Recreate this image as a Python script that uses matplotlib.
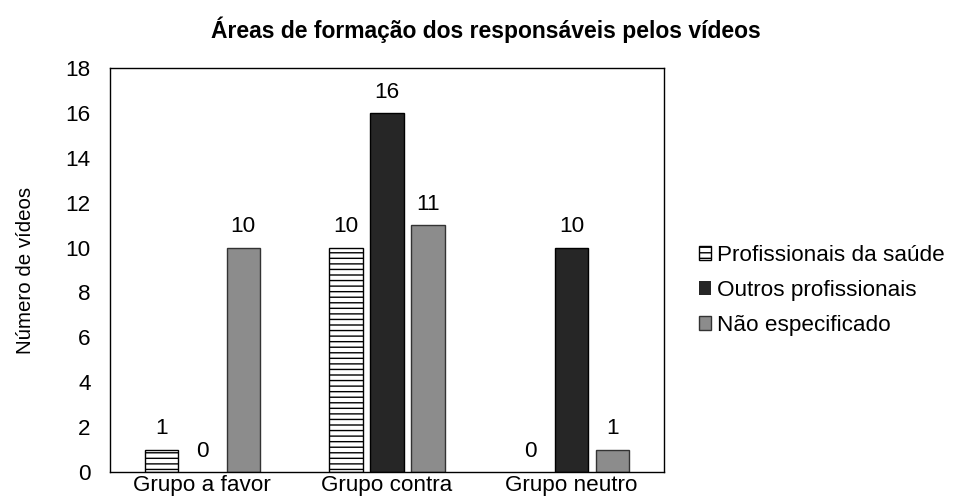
import matplotlib
matplotlib.use("Agg")
import matplotlib.pyplot as plt
import numpy as np
from matplotlib import font_manager

categories = ["Grupo a favor", "Grupo contra", "Grupo neutro"]
series_names = ["Profissionais da saúde", "Outros profissionais", "Não especificado"]
saude = [1, 10, 0]
outros = [0, 16, 10]
nao_esp = [10, 11, 1]

names = {f.name for f in font_manager.fontManager.ttflist}
base = "Liberation Sans" if "Liberation Sans" in names else "DejaVu Sans"
narrow = "Liberation Sans Narrow" if "Liberation Sans Narrow" in names else None
plt.rcParams["font.family"] = [base, "DejaVu Sans"]
plt.rcParams["hatch.linewidth"] = 1.0

fig = plt.figure(figsize=(9.54, 5.0), dpi=100)
ax = fig.add_axes([110/954, 1 - 472/500, 554/954, 404/500])

x = np.arange(len(categories))
w = 0.18
off = 0.222
fs = 16.2
styles = [
    dict(facecolor="white", edgecolor="black", hatch="---"),
    dict(facecolor="#262626", edgecolor="black"),
    dict(facecolor="#8c8c8c", edgecolor="#333333"),
]
data = [saude, outros, nao_esp]
for i, (vals, st, nm) in enumerate(zip(data, styles, series_names)):
    pos = x + (i - 1) * off
    bars = ax.bar(pos, vals, width=w, linewidth=1.0, label=nm, **st)
    for b, v in zip(bars, vals):
        if v == 0:
            b.set_linewidth(0)
    for p, v in zip(pos, vals):
        ax.text(p, v + 0.45, str(v), ha="center", va="bottom", fontsize=fs)

ax.set_xlim(-0.5, 2.5)
ax.set_ylim(0, 18)
ax.set_yticks(range(0, 19, 2))
ax.set_xticks(x)
ax.set_xticklabels(categories, fontsize=fs)
ax.tick_params(axis="both", length=0, labelsize=fs)
ax.tick_params(axis="y", pad=14)
ax.tick_params(axis="x", pad=2)
for s in ax.spines.values():
    s.set_linewidth(1.0)
ax.set_ylabel("Número de vídeos", fontsize=14.8, labelpad=22)

if narrow:
    title_kw = dict(family=[narrow, "DejaVu Sans"], fontsize=17.8)
else:
    title_kw = dict(fontsize=16.5)
fig.text(486/954, 1 - 30/500, "Áreas de formação dos responsáveis pelos vídeos",
         ha="center", va="center", fontweight="bold", **title_kw)

leg = fig.legend(loc="upper left", bbox_to_anchor=(690/954, 1 - 236/500),
                 frameon=False, fontsize=fs, handlelength=0.55, handleheight=0.55,
                 handletextpad=0.25, labelspacing=0.62, borderaxespad=0)

fig.savefig("out.png", dpi=100, facecolor="white")
